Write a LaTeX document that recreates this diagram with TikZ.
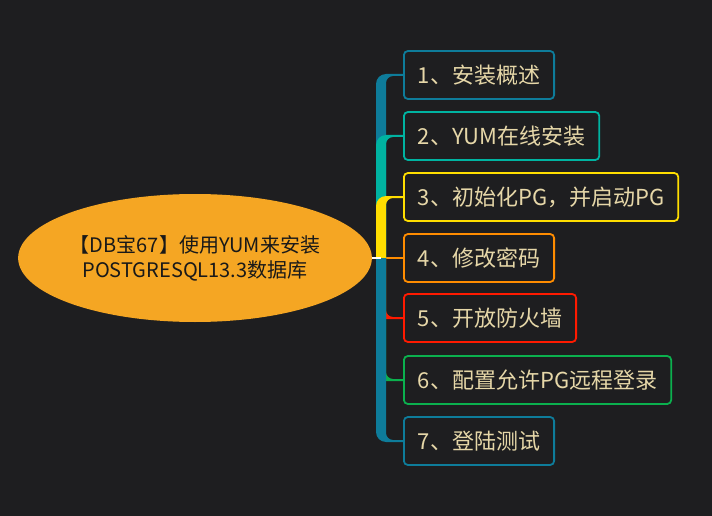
\documentclass[tikz,border=0pt]{standalone}
\usepackage{fontspec}
\setmainfont{Noto Sans CJK SC}
\usetikzlibrary{shapes.geometric,calc}
\definecolor{bgdark}{HTML}{1E1E20}
\definecolor{rootfill}{HTML}{F5A623}
\definecolor{topictext}{HTML}{E6D7A8}
\definecolor{cblue}{HTML}{0E7C9A}
\definecolor{cteal}{HTML}{00B3A1}
\definecolor{cyellow}{HTML}{FFDE00}
\definecolor{corange}{HTML}{FF8C00}
\definecolor{cred}{HTML}{FF1A00}
\definecolor{cgreen}{HTML}{0BB04E}
\tikzset{
    topic/.style={draw=#1, line width=1.8pt, rounded corners=4pt, fill=bgdark,
        text=topictext, font=\fontsize{22}{26}\selectfont, anchor=west,
        minimum height=48pt, inner xsep=14pt, inner ysep=0pt},
    central/.style={ellipse, fill=rootfill, text=black!90, align=center,
        minimum width=350pt, minimum height=128pt, inner sep=0pt,
        font=\fontsize{20}{25}\selectfont}
}
% branch going up from the hub into a topic box
\newcommand{\upbranch}[2]{%
    \fill[#2] let \p1=(#1.west), \p2=(hub) in
        (\x2-5pt,\y2) -- (\x2-5pt,\y1-9pt)
        .. controls (\x2-5pt,\y1-3.5pt) and (\x2-0.5pt,\y1+1pt) .. (\x2+5pt,\y1+1pt)
        -- (\x1,\y1+1pt) -- (\x1,\y1-1pt) -- (\x2+12pt,\y1-1pt)
        .. controls (\x2+8.2pt,\y1-1pt) and (\x2+5pt,\y1-4.2pt) .. (\x2+5pt,\y1-8pt)
        -- (\x2+5pt,\y2) -- cycle;}
% branch going down from the hub into a topic box
\newcommand{\downbranch}[2]{%
    \fill[#2] let \p1=(#1.west), \p2=(hub) in
        (\x2-5pt,\y2) -- (\x2-5pt,\y1+9pt)
        .. controls (\x2-5pt,\y1+3.5pt) and (\x2-0.5pt,\y1-1pt) .. (\x2+5pt,\y1-1pt)
        -- (\x1,\y1-1pt) -- (\x1,\y1+1pt) -- (\x2+12pt,\y1+1pt)
        .. controls (\x2+8.2pt,\y1+1pt) and (\x2+5pt,\y1+4.2pt) .. (\x2+5pt,\y1+8pt)
        -- (\x2+5pt,\y2) -- cycle;}
\begin{document}
\begin{tikzpicture}[x=1pt,y=-1pt]
    \fill[bgdark] (0,0) rectangle (712,516);
    \useasboundingbox (0,0) rectangle (712,516);

    \node[central] (root) at (195,258) {【DB宝67】使用YUM来安装\\POSTGRESQL13.3数据库};
    \coordinate (hub) at (381,258);

    \node[topic=cblue]   (b1) at (403,75)  {1、安装概述};
    \node[topic=cteal]   (b2) at (403,136) {2、YUM在线安装};
    \node[topic=cyellow] (b3) at (403,197) {3、初始化PG，并启动PG};
    \node[topic=corange] (b4) at (403,258) {4、修改密码};
    \node[topic=cred]    (b5) at (403,318) {5、开放防火墙};
    \node[topic=cgreen]  (b6) at (403,380) {6、配置允许PG远程登录};
    \node[topic=cblue]   (b7) at (403,441) {7、登陆测试};

    \draw[corange, line width=2pt] (hub) -- (b4.west);
    \upbranch{b1}{cblue}
    \upbranch{b2}{cteal}
    \upbranch{b3}{cyellow}
    \downbranch{b5}{cred}
    \downbranch{b6}{cgreen}
    \downbranch{b7}{cblue}
    \draw[white, line width=1.6pt] (root.east) -- (hub);
\end{tikzpicture}
\end{document}
